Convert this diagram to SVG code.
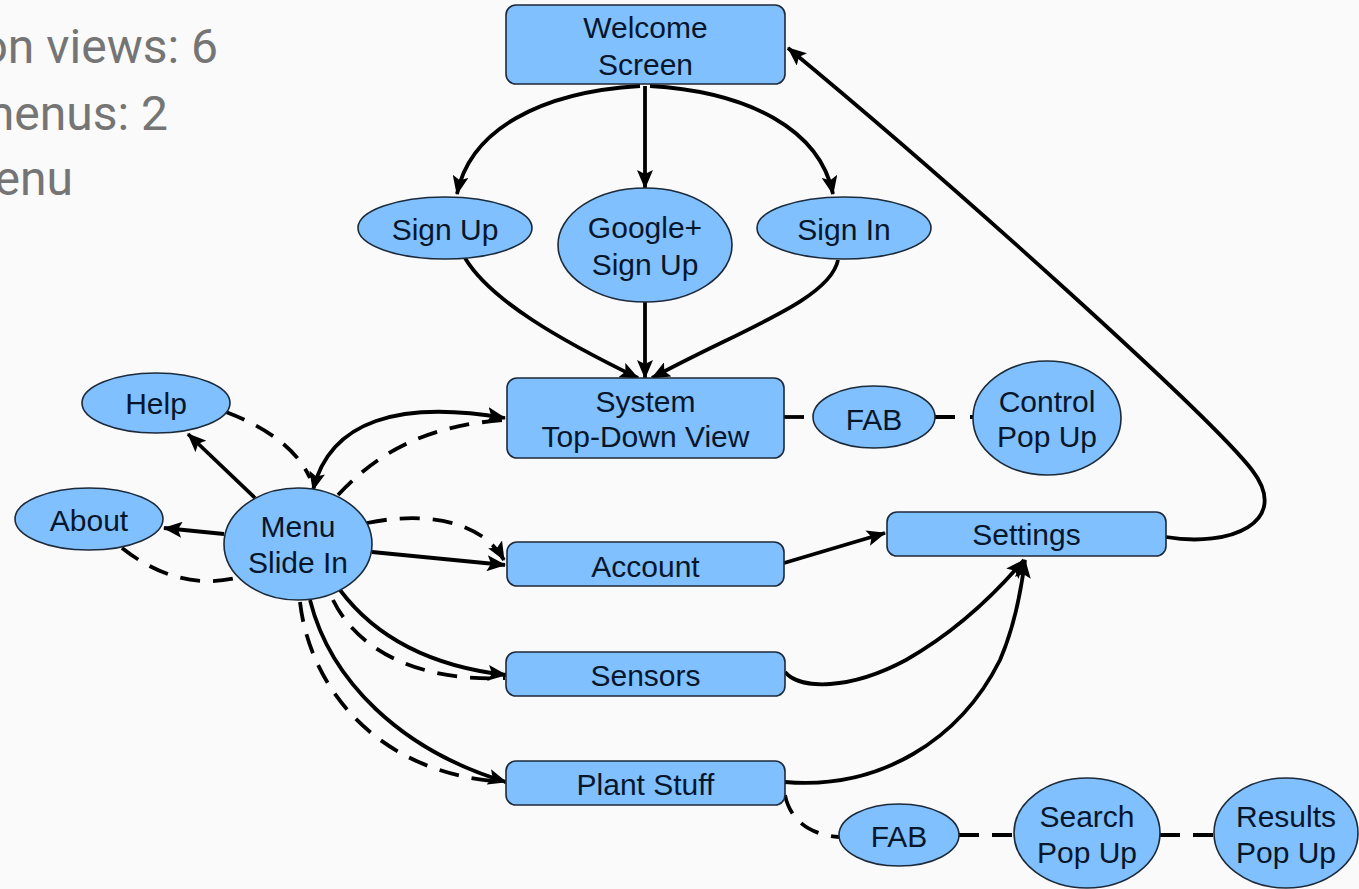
<svg xmlns="http://www.w3.org/2000/svg" width="1359" height="889" viewBox="0 0 1359 889">
<defs>
<marker id="ah" markerUnits="userSpaceOnUse" markerWidth="20" markerHeight="16" refX="18" refY="8" orient="auto">
<path d="M0,0 L19,8 L0,16 L4,8 z" fill="#000"/>
</marker>
<marker id="ahs" markerUnits="userSpaceOnUse" markerWidth="20" markerHeight="16" refX="18" refY="8" orient="auto-start-reverse">
<path d="M0,0 L19,8 L0,16 L4,8 z" fill="#000"/>
</marker>
<style>
.n{fill:#80c0ff;stroke:#1c2a3a;stroke-width:1.6}
.t{font-family:"Liberation Sans",Arial,sans-serif;font-size:30px;fill:#08162b;text-anchor:middle}
.h{font-family:Roboto,"Liberation Sans",sans-serif;font-size:48px;fill:#757575;text-anchor:end}
.c{fill:none;stroke:#000;stroke-width:3.8}
.d{fill:none;stroke:#000;stroke-width:3.8;stroke-dasharray:20 13}
.a{marker-end:url(#ah)}
</style>
</defs>
<rect x="0" y="0" width="1359" height="889" fill="#fafafa"/>
<g id="heading">
<text class="h" x="218" y="63">on views: 6</text>
<text class="h" x="168" y="130">menus: 2</text>
<text class="h" x="73" y="195">enu</text>
</g>
<g id="connectors">
<path class="c a" d="M645 86 L645 188"/>
<path class="c a" d="M640 86 C540 92 470 130 457 194"/>
<path class="c a" d="M650 86 C750 92 820 130 833 194"/>
<path class="c a" d="M465 258 C490 300 560 340 638 378"/>
<path class="c a" d="M645 302 L645 378"/>
<path class="c a" d="M838 260 C830 300 740 330 652 378"/>
<path class="d" d="M784 417 L813 417"/>
<path class="d" d="M935 417 L973 417" style="stroke-dasharray:20 15"/>
<path class="c a" d="M255 498 L188 434"/>
<path class="d" d="M226 412 C260 425 295 445 310 478"/>
<path class="c a" d="M224 534 L164 528"/>
<path class="d" d="M122 548 C150 570 190 590 240 577"/>
<path class="c" d="M313 490 C330 420 400 400 505 418" style="marker-end:url(#ah);marker-start:url(#ahs)"/>
<path class="d" d="M338 495 C380 450 430 425 505 420"/>
<path class="d a" d="M367 523 C420 512 480 518 504 560"/>
<path class="c a" d="M372 552 L505 565"/>
<path class="c a" d="M784 563 L885 533"/>
<path class="c a" d="M340 590 C370 630 420 665 506 675"/>
<path class="d" d="M333 600 C355 645 410 682 505 678"/>
<path class="c a" d="M310 600 C330 680 400 750 506 782"/>
<path class="d" d="M300 602 C310 690 380 775 505 782"/>
<path class="c a" d="M785 672 C800 690 850 690 906 660 C950 635 990 600 1024 560"/>
<path class="c a" d="M785 782 C880 790 960 740 1000 660 C1013 630 1020 600 1025 560"/>
<path class="c a" d="M1166 537 C1230 548 1292 522 1252 470 C1212 418 960 190 788 48"/>
<path class="d" d="M785 795 C790 820 810 835 839 837"/>
<path class="d" d="M959 835 L1015 835"/>
<path class="d" d="M1160 835 L1215 835"/>
</g>
<g id="welcome"><rect class="n" x="506" y="5" width="279" height="79" rx="10"/><text class="t" x="645.5" y="38">Welcome</text><text class="t" x="645.5" y="75">Screen</text></g>
<g id="signup"><ellipse class="n" cx="445" cy="228" rx="87" ry="31"/><text class="t" x="445" y="240">Sign Up</text></g>
<g id="google"><ellipse class="n" cx="645" cy="245" rx="87" ry="57"/><text class="t" x="645" y="238">Google+</text><text class="t" x="645" y="275">Sign Up</text></g>
<g id="signin"><ellipse class="n" cx="844" cy="228" rx="87" ry="31"/><text class="t" x="844" y="240">Sign In</text></g>
<g id="system"><rect class="n" x="507" y="378" width="277" height="80" rx="10"/><text class="t" x="645.5" y="412">System</text><text class="t" x="645.5" y="447">Top-Down View</text></g>
<g id="fab1"><ellipse class="n" cx="874" cy="417" rx="61" ry="31"/><text class="t" x="874" y="430">FAB</text></g>
<g id="control"><ellipse class="n" cx="1047" cy="418" rx="74" ry="57"/><text class="t" x="1047" y="412">Control</text><text class="t" x="1047" y="447">Pop Up</text></g>
<g id="help"><ellipse class="n" cx="156" cy="403" rx="74" ry="30"/><text class="t" x="156" y="414">Help</text></g>
<g id="about"><ellipse class="n" cx="89" cy="519" rx="74" ry="31"/><text class="t" x="89" y="531">About</text></g>
<g id="menu"><ellipse class="n" cx="298" cy="544" rx="74" ry="56"/><text class="t" x="298" y="537">Menu</text><text class="t" x="298" y="573">Slide In</text></g>
<g id="account"><rect class="n" x="507" y="542" width="277" height="44" rx="10"/><text class="t" x="645.5" y="577">Account</text></g>
<g id="settings"><rect class="n" x="887" y="512" width="279" height="44" rx="10"/><text class="t" x="1026.5" y="545">Settings</text></g>
<g id="sensors"><rect class="n" x="506" y="652" width="279" height="44" rx="10"/><text class="t" x="645.5" y="686">Sensors</text></g>
<g id="plant"><rect class="n" x="506" y="761" width="279" height="44" rx="10"/><text class="t" x="645.5" y="795">Plant Stuff</text></g>
<g id="fab2"><ellipse class="n" cx="899" cy="835" rx="60" ry="31"/><text class="t" x="899" y="847">FAB</text></g>
<g id="search"><ellipse class="n" cx="1087" cy="833" rx="73" ry="55"/><text class="t" x="1087" y="827">Search</text><text class="t" x="1087" y="863">Pop Up</text></g>
<g id="results"><ellipse class="n" cx="1286" cy="833" rx="72" ry="55"/><text class="t" x="1286" y="827">Results</text><text class="t" x="1286" y="863">Pop Up</text></g>
</svg>
